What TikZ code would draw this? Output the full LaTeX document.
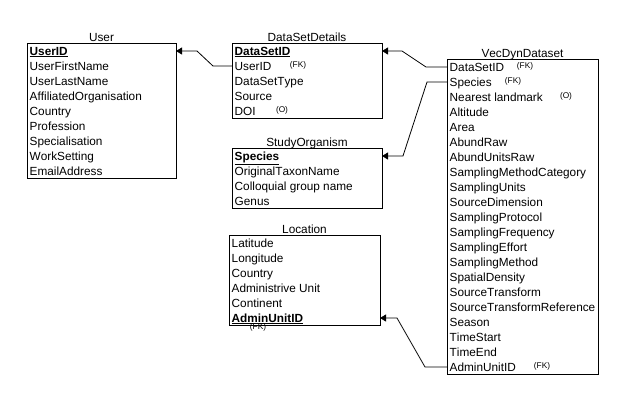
\documentclass[tikz,border=0pt]{standalone}
\usepackage{fontspec}
\setmainfont{Liberation Sans}[Kerning=Off]
\usetikzlibrary{arrows.meta}
\newcommand\pkey[1]{\underline{\textbf{#1}}}
\begin{document}
\begin{tikzpicture}[x=1pt,y=-1pt,
  tbl/.style={draw, line width=0.8pt, inner sep=0pt, outer sep=0pt, anchor=north west},
  ttl/.style={anchor=base, inner sep=0pt, font=\fontsize{11.8}{13}\selectfont},
  fld/.style={anchor=west, inner sep=0pt, text height=8pt, text depth=0pt, font=\fontsize{11.8}{13}\selectfont},
  note/.style={inner sep=0pt, font=\fontsize{8.3}{9}\selectfont},
  link/.style={line width=0.8pt, -{Triangle[length=6pt,width=7pt]}}]
\useasboundingbox (0,0) rectangle (622,400);

% User table
\node[tbl, minimum width=149pt, minimum height=135pt] (user) at (27,43) {};
\node[ttl] (user-t) at (101.5,41) {User};
\foreach \t [count=\i] in {\pkey{UserID},UserFirstName,UserLastName,AffiliatedOrganisation,Country,Profession,Specialisation,WorkSetting,EmailAddress}
  \node[fld] (user-\i) at (29.5,36+15*\i) {\t};

% DataSetDetails table
\node[tbl, minimum width=150pt, minimum height=75pt] (dsd) at (232,43) {};
\node[ttl] (dsd-t) at (307,41) {DataSetDetails};
\foreach \t [count=\i] in {\pkey{DataSetID},UserID,DataSetType,Source,DOI}
  \node[fld] (dsd-\i) at (234.5,36+15*\i) {\t};
\node[note] (dsd-n2) at (298,65.5) {(FK)};
\node[note] (dsd-n5) at (282,110.5) {(O)};

% StudyOrganism table
\node[tbl, minimum width=150pt, minimum height=60pt] (so) at (232,148) {};
\node[ttl] (so-t) at (307,146) {StudyOrganism};
\foreach \t [count=\i] in {\pkey{Species},OriginalTaxonName,Colloquial group name,Genus}
  \node[fld] (so-\i) at (234.5,141+15*\i) {\t};

% Location table
\node[tbl, minimum width=151pt, minimum height=90pt] (loc) at (229,235) {};
\node[ttl] (loc-t) at (304.5,233) {Location};
\foreach \t [count=\i] in {Latitude,Longitude,Country,Administrive Unit,Continent,\pkey{AdminUnitID}}
  \node[fld] (loc-\i) at (231.5,228+15*\i) {\t};
\node[note] (loc-n6) at (258,327) {(FK)};

% VecDynDataset table
\node[tbl, minimum width=151pt, minimum height=315pt] (vec) at (447,59) {};
\node[ttl] (vec-t) at (522.5,57) {VecDynDataset};
\foreach \t [count=\i] in {DataSetID,Species,Nearest landmark,Altitude,Area,AbundRaw,AbundUnitsRaw,SamplingMethodCategory,SamplingUnits,SourceDimension,SamplingProtocol,SamplingFrequency,SamplingEffort,SamplingMethod,SpatialDensity,SourceTransform,SourceTransformReference,Season,TimeStart,TimeEnd,AdminUnitID}
  \node[fld] (vec-\i) at (449.5,52+15*\i) {\t};
\node[note] (vec-n1) at (525,66.5) {(FK)};
\node[note] (vec-n2) at (513,81.5) {(FK)};
\node[note] (vec-n3) at (566,96.5) {(O)};
\node[note] (vec-n21) at (542,366.5) {(FK)};

% Foreign-key links
\draw[link] (dsd.west |- dsd-2.west) -- ++(-19,0) -- ++(-16,-15) -- (user.east |- user-1.west);
\draw[link] (vec.west |- vec-1.west) -- ++(-21,0) -- ++(-24,-16) -- (dsd.east |- dsd-1.west);
\draw[link] (vec.west |- vec-2.west) -- ++(-20,0) -- ++(-24,74) -- (so.east |- so-1.west);
\draw[link] (vec.west |- vec-21.west) -- ++(-22,0) -- ++(-28,-49) -- (loc.east |- loc-6.west);
\end{tikzpicture}
\end{document}
